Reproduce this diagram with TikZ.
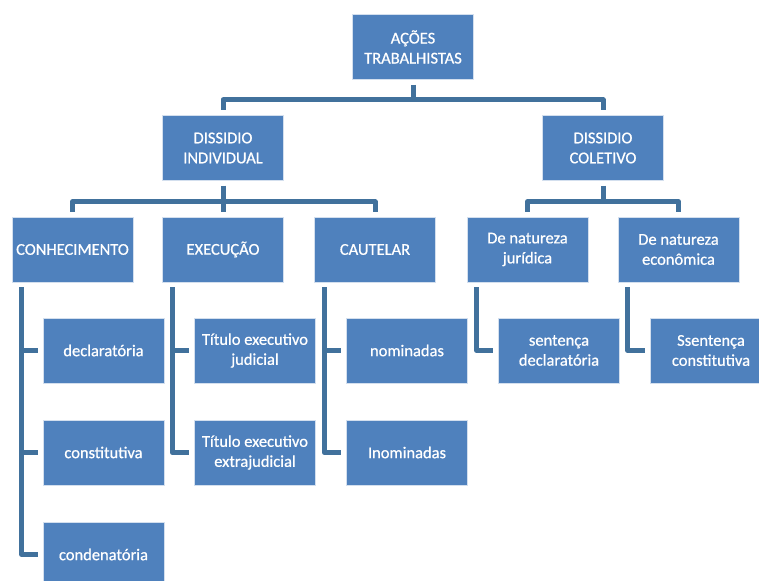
\documentclass[tikz,border=0pt]{standalone}
\usepackage{fontspec}
\setmainfont{Carlito}
\newfontfamily\boxfont{Carlito}[FakeBold=0.7]
\usepackage{tikz}
\usetikzlibrary{calc}

\definecolor{boxblue}{HTML}{4F81BD}
\definecolor{lineblue}{HTML}{41719C}

\begin{document}
\begin{tikzpicture}[x=1pt, y=-1pt, shorten >=5pt, shorten <=5pt,
        node_style/.style={rectangle,draw=white!75!boxblue,line width=0.6pt,fill=boxblue,text=white,
            minimum width=121pt,minimum height=65pt,inner sep=0pt,align=center,
            font=\boxfont\fontsize{16.5}{20}\selectfont},
        edge_style/.style={draw=lineblue, line width=5pt, line join=round, -}]
        \useasboundingbox (0,0) rectangle (759,580);

        \node [node_style](n1) at (413,47) {AÇÕES\\TRABALHISTAS};
        \node [node_style](n2) at (223,148) {DISSIDIO\\INDIVIDUAL};
        \node [node_style](n3) at (603,148) {DISSIDIO\\COLETIVO};
        \node [node_style](n4) at (72.5,249.5) {CONHECIMENTO};
        \node [node_style](n5) at (223,249.5) {EXECUÇÃO};
        \node [node_style](n6) at (375,249.5) {CAUTELAR};
        \node [node_style](n7) at (527.5,249.5) {De natureza\\jurídica};
        \node [node_style](n8) at (678.5,249.5) {De natureza\\econômica};
        \node [node_style](n9) at (103.5,350.5) {declaratória};
        \node [node_style](n10) at (103.5,452.5) {constitutiva};
        \node [node_style](n11) at (103.5,554.5) {condenatória};
        \node [node_style](n12) at (255,350.5) {Título executivo\\judicial};
        \node [node_style](n13) at (255,452.5) {Título executivo\\extrajudicial};
        \node [node_style](n14) at (407,350.5) {nominadas};
        \node [node_style](n15) at (407,452.5) {Inominadas};
        \node [node_style](n16) at (559,350.5) {sentença\\declaratória};
        \node [node_style](n17) at (711,350.5) {Ssentença\\constitutiva};

        \draw [edge_style] (n1.south) -- ++(0,20) -| (n2.north);
        \draw [edge_style] (n1.south) -- ++(0,20) -| (n3.north);
        \draw [edge_style] (n2.south) -- ++(0,21) -| (n4.north);
        \draw [edge_style] (n2.south) -- ++(0,21) -| (n5.north);
        \draw [edge_style] (n2.south) -- ++(0,21) -| (n6.north);
        \draw [edge_style] (n3.south) -- ++(0,21) -| (n7.north);
        \draw [edge_style] (n3.south) -- ++(0,21) -| (n8.north);
        \draw [edge_style] ($(n4.south west)+(10,0)$) |- (n9.west);
        \draw [edge_style] ($(n4.south west)+(10,0)$) |- (n10.west);
        \draw [edge_style] ($(n4.south west)+(10,0)$) |- (n11.west);
        \draw [edge_style] ($(n5.south west)+(10,0)$) |- (n12.west);
        \draw [edge_style] ($(n5.south west)+(10,0)$) |- (n13.west);
        \draw [edge_style] ($(n6.south west)+(10,0)$) |- (n14.west);
        \draw [edge_style] ($(n6.south west)+(10,0)$) |- (n15.west);
        \draw [edge_style] ($(n7.south west)+(10,0)$) |- (n16.west);
        \draw [edge_style] ($(n8.south west)+(10,0)$) |- (n17.west);
\end{tikzpicture}
\end{document}
